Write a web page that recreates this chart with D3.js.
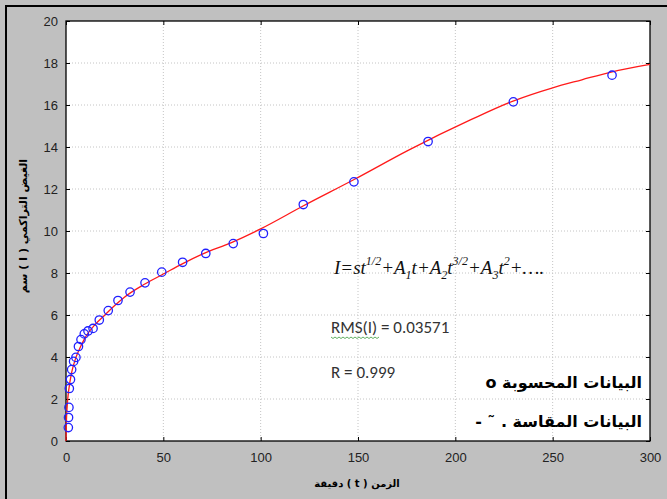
<html>
<head>
<meta charset="utf-8">
<style>
  body { margin: 0; background: #c0c0c0; }
  svg { display: block; }
</style>
</head>
<body>
<div id="chart"></div>

<script type="text/javascript" src="https://cdn.jsdelivr.net/npm/d3@7"></script>

<script type="text/javascript">
// measured points (circles)
var measT = [1.2, 1.3, 1.5, 1.7, 2.3, 2.9, 3.9, 5.1, 6.4, 7.7, 9.4, 11.3, 13.9, 17.1, 21.7, 26.7,
             32.9, 40.6, 49.2, 59.9, 71.8, 85.9, 101.4, 121.9, 147.9, 186, 229.8, 280.5]
var measI = [0.64, 1.12, 1.6, 2.5, 2.93, 3.4, 3.79, 3.98, 4.5, 4.83, 5.1, 5.24, 5.36, 5.76, 6.21, 6.69,
             7.09, 7.53, 8.04, 8.51, 8.93, 9.4, 9.88, 11.26, 12.34, 14.26, 16.15, 17.42]

// fitted curve (red line)
var fitT = [0, 0.2, 0.5, 1, 2, 3, 5, 7.5, 10, 15, 20, 25, 30, 40, 50, 60, 70, 85, 100, 122,
            148, 176, 208, 230, 250, 265, 280, 300]
var fitI = [0, 0.9, 1.5, 2.1, 2.8, 3.3, 3.95, 4.5, 4.95, 5.55, 6.0, 6.45, 6.85, 7.45, 7.95, 8.45, 8.9,
            9.45, 10.1, 11.2, 12.45, 13.85, 15.3, 16.2, 16.82, 17.2, 17.57, 17.93]

var xTicks = [0, 50, 100, 150, 200, 250, 300]
var yTicks = [0, 2, 4, 6, 8, 10, 12, 14, 16, 18, 20]

var xTitle = "الزمن ( t ) دقيقة"
var yTitle = "الغيض التراكمي ( I ) سم"
var legend1 = "البيانات المحسوبة o"
var legend2 = "البيانات المقاسة .  ˜   -"
var rmsText = "RMS(I) = 0.03571"
var rText = "R = 0.999"

var W = 667, H = 499
var margin = {top: 21, right: 17, bottom: 58, left: 66}
var width = W - margin.left - margin.right
var height = H - margin.top - margin.bottom

var root = d3.select("#chart").append("svg")
  .attr("width", W).attr("height", H)
  .style("background-color", "#c0c0c0")

// outer black frame (only top / left visible)
root.append("line").attr("x1", 6).attr("x2", 6).attr("y1", 5).attr("y2", H)
  .attr("stroke", "#000").attr("stroke-width", 2)
root.append("line").attr("x1", 5).attr("x2", W).attr("y1", 6).attr("y2", 6)
  .attr("stroke", "#000").attr("stroke-width", 2)

var svg = root.append("g")
  .attr("transform", "translate(" + margin.left + "," + margin.top + ")")

var x = d3.scaleLinear().domain([0, 300]).range([0, width])
var y = d3.scaleLinear().domain([0, 20]).range([height, 0])

svg.append("rect").attr("width", width).attr("height", height).attr("fill", "#fff")

// grid
svg.append("g").selectAll("line").data(xTicks.slice(1, -1)).enter().append("line")
  .attr("x1", d => x(d)).attr("x2", d => x(d)).attr("y1", 0).attr("y2", height)
  .attr("stroke", "#c4c4c4").attr("stroke-dasharray", "1,2")
svg.append("g").selectAll("line").data(yTicks.slice(1, -1)).enter().append("line")
  .attr("y1", d => y(d)).attr("y2", d => y(d)).attr("x1", 0).attr("x2", width)
  .attr("stroke", "#c4c4c4").attr("stroke-dasharray", "1,2")

// axes
function styleAxis(g) {
  g.select(".domain").remove()
  g.selectAll("line").attr("stroke", "#000")
  g.selectAll("text").attr("fill", "#222").style("font-family", "'Liberation Sans', Arial, sans-serif").style("font-size", "13px")
}
svg.append("g").attr("transform", "translate(0," + height + ")")
  .call(d3.axisBottom(x).tickValues(xTicks).tickSize(-4).tickPadding(12)).call(styleAxis)
svg.append("g")
  .call(d3.axisLeft(y).tickValues(yTicks).tickSize(-4).tickPadding(8)).call(styleAxis)
svg.append("g")
  .call(d3.axisTop(x).tickValues(xTicks).tickSize(-4).tickFormat("")).call(styleAxis)
svg.append("g").attr("transform", "translate(" + width + ",0)")
  .call(d3.axisRight(y).tickValues(yTicks).tickSize(-4).tickFormat("")).call(styleAxis)

svg.append("rect").attr("width", width).attr("height", height)
  .attr("fill", "none").attr("stroke", "#000").attr("stroke-width", 1.3)

// fitted curve
var fit = fitT.map((t, i) => ({t: t, v: fitI[i]}))
var line = d3.line().x(d => x(d.t)).y(d => y(d.v)).curve(d3.curveMonotoneX)
svg.append("path").datum(fit)
  .attr("fill", "none").attr("stroke", "#ff1a1a").attr("stroke-width", 1.3).attr("d", line)

// measured circles
var meas = measT.map((t, i) => ({t: t, v: measI[i]}))
svg.selectAll("circle.m").data(meas).enter().append("circle")
  .attr("class", "m")
  .attr("cx", d => x(d.t)).attr("cy", d => y(d.v)).attr("r", 4.2)
  .attr("fill", "none").attr("stroke", "#2020ff").attr("stroke-width", 1.3)

// formula
var f = svg.append("text").attr("x", 268).attr("y", 253)
  .style("font-family", "'Liberation Serif', 'Times New Roman', serif")
  .style("font-style", "italic").style("font-size", "19px").attr("fill", "#111")
f.append("tspan").text("I=st")
f.append("tspan").attr("dy", -9).style("font-size", "12px").text("1/2")
f.append("tspan").attr("dy", 9).text("+A")
f.append("tspan").attr("dy", 5).style("font-size", "12px").text("1")
f.append("tspan").attr("dy", -5).text("t+A")
f.append("tspan").attr("dy", 5).style("font-size", "12px").text("2")
f.append("tspan").attr("dy", -5).text("t")
f.append("tspan").attr("dy", -9).style("font-size", "12px").text("3/2")
f.append("tspan").attr("dy", 9).text("+A")
f.append("tspan").attr("dy", 5).style("font-size", "12px").text("3")
f.append("tspan").attr("dy", -5).text("t")
f.append("tspan").attr("dy", -9).style("font-size", "12px").text("2")
f.append("tspan").attr("dy", 9).text("+….")

// RMS and R
var sans = "Carlito, 'Open Sans', 'Liberation Sans', sans-serif"
svg.append("text").attr("x", 265).attr("y", 312).text(rmsText)
  .style("font-family", sans).style("font-size", "17px").attr("fill", "#333")
var wy = 316, wx0 = 265, wx1 = 315
var wave = d3.range(wx0, wx1, 2).map((px, i) => [px, wy + (i % 2 ? 1.5 : 0)])
svg.append("path").attr("d", d3.line()(wave)).attr("fill", "none")
  .attr("stroke", "#3a9a3a").attr("stroke-width", 0.8)
svg.append("text").attr("x", 265).attr("y", 357).text(rText)
  .style("font-family", sans).style("font-size", "17px").attr("fill", "#333")

// legend (right to left)
var arab = "'DejaVu Sans', 'Noto Sans', sans-serif"
svg.append("text").attr("x", 576).attr("y", 367).attr("direction", "rtl")
  .attr("text-anchor", "start").text(legend1)
  .style("font-family", arab).style("font-weight", "bold")
  .style("font-size", "16px").attr("fill", "#000")
svg.append("text").attr("x", 576).attr("y", 406).attr("direction", "rtl")
  .attr("text-anchor", "start").text(legend2)
  .style("font-family", arab).style("font-weight", "bold")
  .style("font-size", "16px").attr("fill", "#000")

// axis titles
root.append("text").attr("x", 357).attr("y", 487).attr("direction", "rtl")
  .attr("text-anchor", "middle").text(xTitle)
  .style("font-family", arab).style("font-weight", "bold")
  .style("font-size", "10px").attr("fill", "#000")
root.append("text").attr("transform", "translate(27,226) rotate(-90)").attr("direction", "rtl")
  .attr("text-anchor", "middle").text(yTitle)
  .style("font-family", arab).style("font-weight", "bold")
  .style("font-size", "11px").attr("fill", "#000")
</script>
</body>
</html>
